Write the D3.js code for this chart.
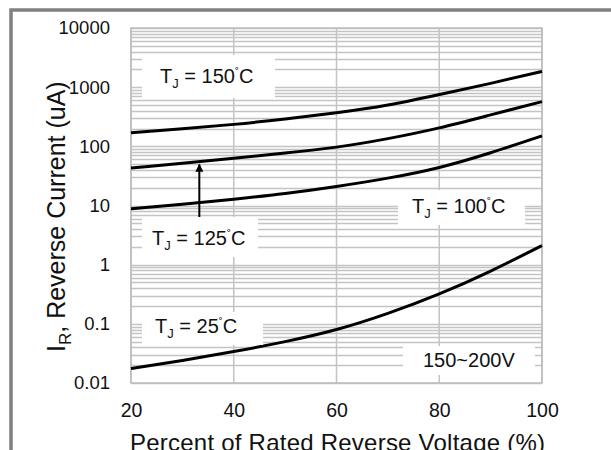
<!DOCTYPE html>
<html>
<head>
<meta charset="utf-8">
<script src="https://cdn.jsdelivr.net/npm/d3@7"></script>
<style>
  body { margin: 0; background: #fff; overflow: hidden; }
  text { font-family: "Liberation Sans", Arial, sans-serif; fill: #111; }
</style>
</head>
<body>
<div id="container"></div>
<script>
// percent of rated reverse voltage
var voltage = [20, 30, 40, 50, 60, 70, 80, 90, 100];

// reverse current (uA) per junction temperature
var tj150 = [170, 198, 235, 290, 370, 500, 750, 1160, 1850];
var tj125 = [43, 52, 63, 77, 97, 135, 205, 340, 570];
var tj100 = [8.8, 10.5, 12.8, 16, 21, 29, 44, 78, 150];
var tj25  = [0.0175, 0.024, 0.034, 0.05, 0.08, 0.15, 0.32, 0.78, 2.1];

var xTicks = [20, 40, 60, 80, 100];
var yTicks = [0.01, 0.1, 1, 10, 100, 1000, 10000];
var yTickLabels = ["0.01", "0.1", "1", "10", "100", "1000", "10000"];

var series = [tj150, tj125, tj100, tj25];

function chart(){
	var margin = {top: 28, right: 69, bottom: 67, left: 131},
		width = 611 - (margin.left + margin.right),
		height = 450 - (margin.top + margin.bottom);

	var svg = d3.select("#container")
		.append("svg")
		.attr("width", 611)
		.attr("height", 450);

	// outer gray frame
	svg.append("path")
		.attr("d", "M11,452 L11,10 L615,10")
		.attr("fill", "none")
		.attr("stroke", "#808080")
		.attr("stroke-width", 3.5);

	var plot = svg.append("g")
		.attr("transform", "translate(" + margin.left + "," + margin.top + ")");

	var x = d3.scaleLinear().domain([20, 100]).range([0, width]);
	var y = d3.scaleLog().domain([0.01, 10000]).range([height, 0]);

	// horizontal grid, minor + major
	var hLines = [];
	for (var k = -2; k < 4; k++) {
		for (var m = 1; m < 10; m++) hLines.push(m * Math.pow(10, k));
	}
	hLines.push(10000);

	plot.selectAll(".hgrid")
		.data(hLines)
		.enter().append("line")
		.attr("class", "hgrid")
		.attr("x1", 0).attr("x2", width)
		.attr("y1", function(d) { return Math.round(y(d)) + 0.5; })
		.attr("y2", function(d) { return Math.round(y(d)) + 0.5; })
		.attr("stroke", "#c4c4c4")
		.attr("stroke-width", 1.5);

	plot.selectAll(".vgrid")
		.data(xTicks)
		.enter().append("line")
		.attr("class", "vgrid")
		.attr("x1", function(d) { return x(d); })
		.attr("x2", function(d) { return x(d); })
		.attr("y1", 0).attr("y2", height)
		.attr("stroke", "#c4c4c4")
		.attr("stroke-width", 1.5);

	plot.append("rect")
		.attr("width", width).attr("height", height)
		.attr("fill", "none")
		.attr("stroke", "#bdbdbd")
		.attr("stroke-width", 1.5);

	// label boxes (white, hide the grid)
	var boxes = [
		{x: 142, y: 55, w: 133, h: 43},
		{x: 142, y: 217, w: 116, h: 40},
		{x: 398, y: 190, w: 127, h: 35},
		{x: 142, y: 312, w: 121, h: 33},
		{x: 403, y: 346, w: 132, h: 29}
	];
	svg.selectAll(".box")
		.data(boxes)
		.enter().append("rect")
		.attr("class", "box")
		.attr("x", function(d) { return d.x; })
		.attr("y", function(d) { return d.y; })
		.attr("width", function(d) { return d.w; })
		.attr("height", function(d) { return d.h; })
		.attr("fill", "#fff");

	// curves
	var line = d3.line()
		.curve(d3.curveNatural)
		.x(function(d, i) { return x(voltage[i]); })
		.y(function(d) { return y(d); });

	plot.selectAll(".curve")
		.data(series)
		.enter().append("path")
		.attr("class", "curve")
		.attr("d", line)
		.attr("fill", "none")
		.attr("stroke", "#000")
		.attr("stroke-width", 3);

	// arrow to 125C curve
	svg.append("defs").append("marker")
		.attr("id", "head")
		.attr("viewBox", "0 0 10 10")
		.attr("refX", 9).attr("refY", 5)
		.attr("markerWidth", 4).attr("markerHeight", 4)
		.attr("orient", "auto")
		.append("path")
		.attr("d", "M0,0 L10,5 L0,10 Z")
		.attr("fill", "#000");

	var ax = x(33.3);
	plot.append("line")
		.attr("x1", ax).attr("x2", ax)
		.attr("y1", 218 - margin.top)
		.attr("y2", y(60) + 5)
		.attr("stroke", "#000")
		.attr("stroke-width", 2)
		.attr("marker-end", "url(#head)");

	// axes
	var xAxis = plot.append("g")
		.attr("transform", "translate(0," + height + ")")
		.call(d3.axisBottom(x).tickValues(xTicks).tickSize(0).tickPadding(20));
	xAxis.select(".domain").remove();
	xAxis.selectAll("text")
		.style("font-size", "19.5px")
		.attr("fill", "#111");

	var yAxis = plot.append("g")
		.call(d3.axisLeft(y).tickValues(yTicks).tickSize(0).tickPadding(21)
			.tickFormat(function(d, i) { return yTickLabels[i]; }));
	yAxis.select(".domain").remove();
	yAxis.selectAll("text")
		.style("font-size", "18.5px")
		.attr("fill", "#111");

	// axis titles
	svg.append("text")
		.attr("x", 130).attr("y", 451)
		.attr("textLength", 415)
		.style("font-size", "24px")
		.text("Percent of Rated Reverse Voltage (%)");

	var yt = svg.append("text")
		.attr("transform", "translate(65,352) rotate(-90)")
		.style("font-size", "25px");
	yt.append("tspan").text("I");
	yt.append("tspan").attr("dy", 6).style("font-size", "17px").text("R");
	yt.append("tspan").attr("dy", -6).text(", Reverse Current (uA)");

	// temperature labels
	var tLabels = [
		{x: 160, y: 83, t: "150"},
		{x: 152, y: 245, t: "125"},
		{x: 412, y: 213, t: "100"},
		{x: 155, y: 333, t: "25"}
	];
	tLabels.forEach(function(l) {
		var t = svg.append("text")
			.attr("x", l.x).attr("y", l.y)
			.style("font-size", "20px");
		t.append("tspan").text("T");
		t.append("tspan").attr("dy", 5).style("font-size", "13px").text("J");
		t.append("tspan").attr("dy", -5).text(" = " + l.t);
		t.append("tspan").attr("dy", -6).style("font-size", "12px").text("\u02da");
		t.append("tspan").attr("dy", 6).text("C");
	});

	svg.append("text")
		.attr("x", 423).attr("y", 367)
		.style("font-size", "20px")
		.text("150~200V");
}

chart();
</script>
</body>
</html>
